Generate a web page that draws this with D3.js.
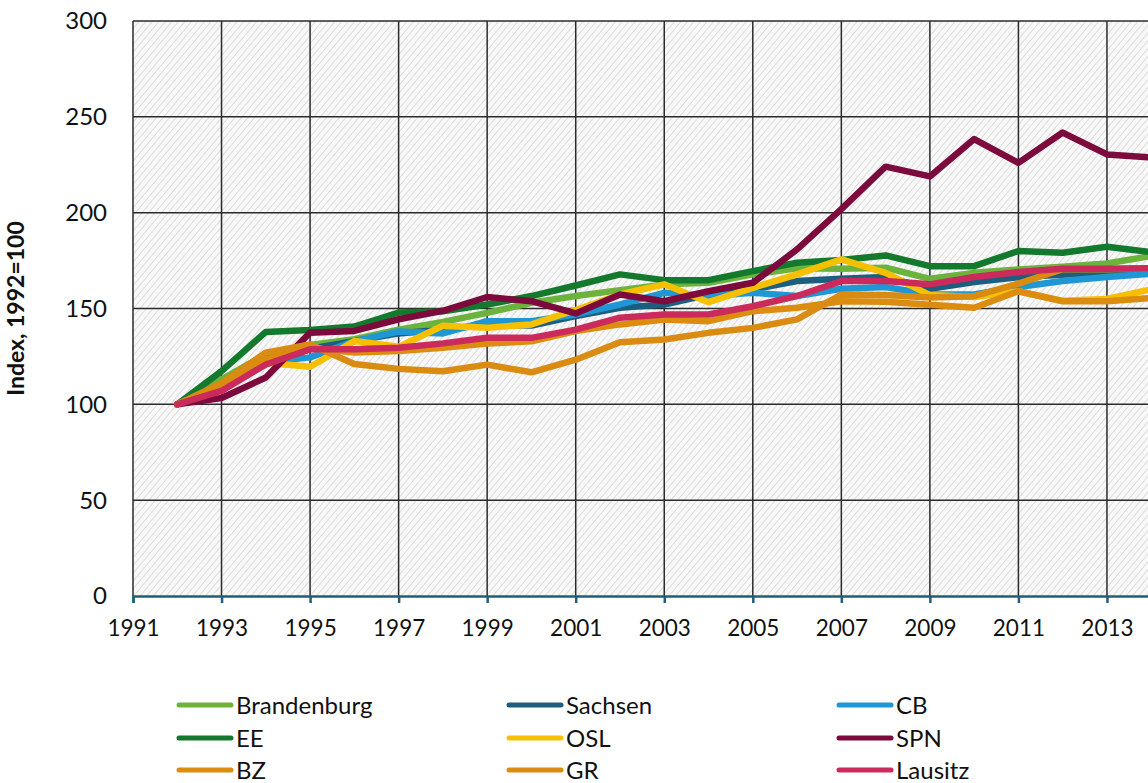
<!DOCTYPE html>
<html>
<head>
<meta charset="utf-8">
<script src="https://cdn.jsdelivr.net/npm/d3@7"></script>
<style>
  body { margin: 0; background: #fff; }
  svg { display: block; font-family: Lato, "Open Sans", sans-serif; }
</style>
</head>
<body>
<div id="chart"></div>
<script>
// Data
const years = [1992, 1993, 1994, 1995, 1996, 1997, 1998, 1999, 2000, 2001, 2002, 2003,
  2004, 2005, 2006, 2007, 2008, 2009, 2010, 2011, 2012, 2013, 2014];
const brandenburg = [100, 113, 126, 131, 134, 139, 143, 147.7, 153, 156.5, 159.6, 162.6,
  163.4, 167.8, 171, 170.7, 171.3, 165.5, 168.6, 170.4, 171.8, 173.5, 177.4];
const sachsen = [100, 110, 124, 129, 133, 137, 139, 141.7, 141.1, 146, 150.4, 152.1,
  157.3, 160, 164.3, 165.5, 166.4, 160.3, 163.8, 166.4, 167.6, 169, 169.9];
const cb = [100, 109, 122, 124.5, 133, 138, 137, 143.4, 143.4, 146.9, 152.1, 158.2,
  156.5, 158.2, 156.5, 160.3, 161.2, 157.3, 157.3, 161.2, 164.3, 166.4, 168.2];
const ee = [100, 117.3, 137.8, 138.8, 140.6, 147.9, 148.5, 152.1, 156.5, 162, 167.8, 164.8,
  164.8, 169.5, 173.9, 175.3, 177.7, 172.1, 172.1, 180, 179.1, 182.2, 179.4];
const osl = [100, 108, 121.7, 119.6, 133, 130, 141, 140, 141.7, 149.2, 157.3, 162.6,
  153.3, 160.8, 167.8, 175.6, 168.6, 157, 156, 159, 154, 155, 160];
const spn = [100, 103.3, 114, 137.4, 138.3, 144.4, 148.8, 156, 153.8, 147.4, 157.3, 153.8,
  159, 163.4, 180.8, 201.8, 224, 218.9, 238.4, 226, 241.8, 230.4, 228.8];
const bz = [100, 110, 123.4, 129.5, 127, 127.8, 129.5, 131.7, 132.9, 138.2, 141.7, 144.3,
  143.4, 148.6, 150.4, 153.8, 153.5, 152, 150.4, 159, 153.8, 153.8, 155.5];
const gr = [100, 111, 127, 131.3, 121, 118.5, 117.3, 120.7, 116.7, 123.3, 132.4, 133.8,
  137.3, 139.9, 144.3, 157.3, 157, 155.7, 156.4, 163, 170.5, 170.5, 171];
const lausitz = [100, 107, 120.8, 128.7, 128.7, 129.5, 131.8, 134.7, 134.7, 139, 145.2, 146.9,
  146.9, 151.2, 156.5, 164.3, 164.3, 162.6, 166.4, 169, 170.7, 170.7, 171];

const seriesNames = ["Brandenburg", "Sachsen", "CB", "EE", "OSL", "SPN", "BZ", "GR", "Lausitz"];
const seriesValues = [brandenburg, sachsen, cb, ee, osl, spn, bz, gr, lausitz];
const seriesColors = ["#6cb33e", "#1b5e80", "#1f97d4", "#12792d", "#f6c000",
  "#7d0a3c", "#dc8c0f", "#d98b12", "#cb2a5c"];
const xTicks = [1991, 1993, 1995, 1997, 1999, 2001, 2003, 2005, 2007, 2009, 2011, 2013];
const xGrid = [1991, 1993, 1995, 1997, 1999, 2001, 2003, 2005, 2007, 2009, 2011, 2013, 2015];
const yTicks = [0, 50, 100, 150, 200, 250, 300];

const width = 1148;
const height = 783;

const svg = d3.select("#chart")
  .append("svg")
  .attr("width", width)
  .attr("height", height);

// Scales (plot area runs past the right edge, as in the reference)
const x = d3.scaleLinear().domain([1991, 2015]).range([133, 1195.5]);
const y = d3.scaleLinear().domain([0, 300]).range([596, 21]);

// Hatched background
const defs = svg.append("defs");
const pat = defs.append("pattern")
  .attr("id", "hatch")
  .attr("patternUnits", "userSpaceOnUse")
  .attr("width", 5)
  .attr("height", 5)
  .attr("patternTransform", "rotate(40)");
pat.append("rect").attr("width", 5).attr("height", 5).attr("fill", "#f8f8f8");
pat.append("line")
  .attr("x1", 0).attr("y1", 0).attr("x2", 0).attr("y2", 5)
  .attr("stroke", "#d6d6d6")
  .attr("stroke-width", 1.6);

svg.append("rect")
  .attr("x", x(1991))
  .attr("y", y(300))
  .attr("width", x(2015) - x(1991))
  .attr("height", y(0) - y(300))
  .attr("fill", "url(#hatch)");

// Grid
svg.append("g")
  .selectAll("line")
  .data(yTicks.filter((d) => d > 0))
  .join("line")
  .attr("x1", x(1991))
  .attr("x2", x(2015))
  .attr("y1", (d) => y(d))
  .attr("y2", (d) => y(d))
  .attr("stroke", "#2b2b2b")
  .attr("stroke-width", 1.5);

svg.append("g")
  .selectAll("line")
  .data(xGrid)
  .join("line")
  .attr("x1", (d) => x(d))
  .attr("x2", (d) => x(d))
  .attr("y1", y(300))
  .attr("y2", y(0))
  .attr("stroke", "#2b2b2b")
  .attr("stroke-width", 1.5);

// Y labels
svg.append("g")
  .selectAll("text")
  .data(yTicks)
  .join("text")
  .attr("x", 107)
  .attr("y", (d) => y(d))
  .attr("dy", "0.35em")
  .attr("text-anchor", "end")
  .style("font-size", "24px")
  .attr("fill", "#111")
  .text((d) => d);

svg.append("text")
  .attr("transform", `translate(24, ${y(150)}) rotate(-90)`)
  .attr("text-anchor", "middle")
  .style("font-size", "23px")
  .style("font-weight", "bold")
  .attr("fill", "#111")
  .text("Index, 1992=100");

// Lines
const line = d3.line()
  .x((d, i) => x(years[i]))
  .y((d) => y(d));

svg.append("g")
  .selectAll("path")
  .data(seriesValues)
  .join("path")
  .attr("d", (d) => line(d))
  .attr("fill", "none")
  .attr("stroke", (d, i) => seriesColors[i])
  .attr("stroke-width", 6.5)
  .attr("stroke-linejoin", "round")
  .attr("stroke-linecap", "round");

// X axis
const xAxis = svg.append("g")
  .attr("transform", `translate(0, ${y(0)})`)
  .call(d3.axisBottom(x).tickValues(xTicks).tickFormat(d3.format("d")).tickSize(7).tickPadding(17));
xAxis.select(".domain").attr("stroke", "#1d5f7c").attr("stroke-width", 2.5);
xAxis.selectAll(".tick line").attr("stroke", "#1d5f7c").attr("stroke-width", 2.5);
xAxis.selectAll(".tick text")
  .style("font-size", "22.5px")
  .style("font-family", "Lato, sans-serif")
  .attr("fill", "#111");

// Legend
const legendCols = [177, 507, 837];
const legendRows = [705, 738, 770];
const legend = svg.append("g")
  .selectAll("g")
  .data(seriesNames)
  .join("g")
  .attr("transform", (d, i) => `translate(${legendCols[i % 3]}, ${legendRows[Math.floor(i / 3)]})`);

legend.append("line")
  .attr("x1", 2)
  .attr("x2", 54)
  .attr("stroke", (d, i) => seriesColors[i])
  .attr("stroke-width", 5)
  .attr("stroke-linecap", "round");

legend.append("text")
  .attr("x", 59)
  .attr("dy", "0.36em")
  .style("font-size", "24px")
  .attr("fill", "#111")
  .text((d) => d);
</script>
</body>
</html>
